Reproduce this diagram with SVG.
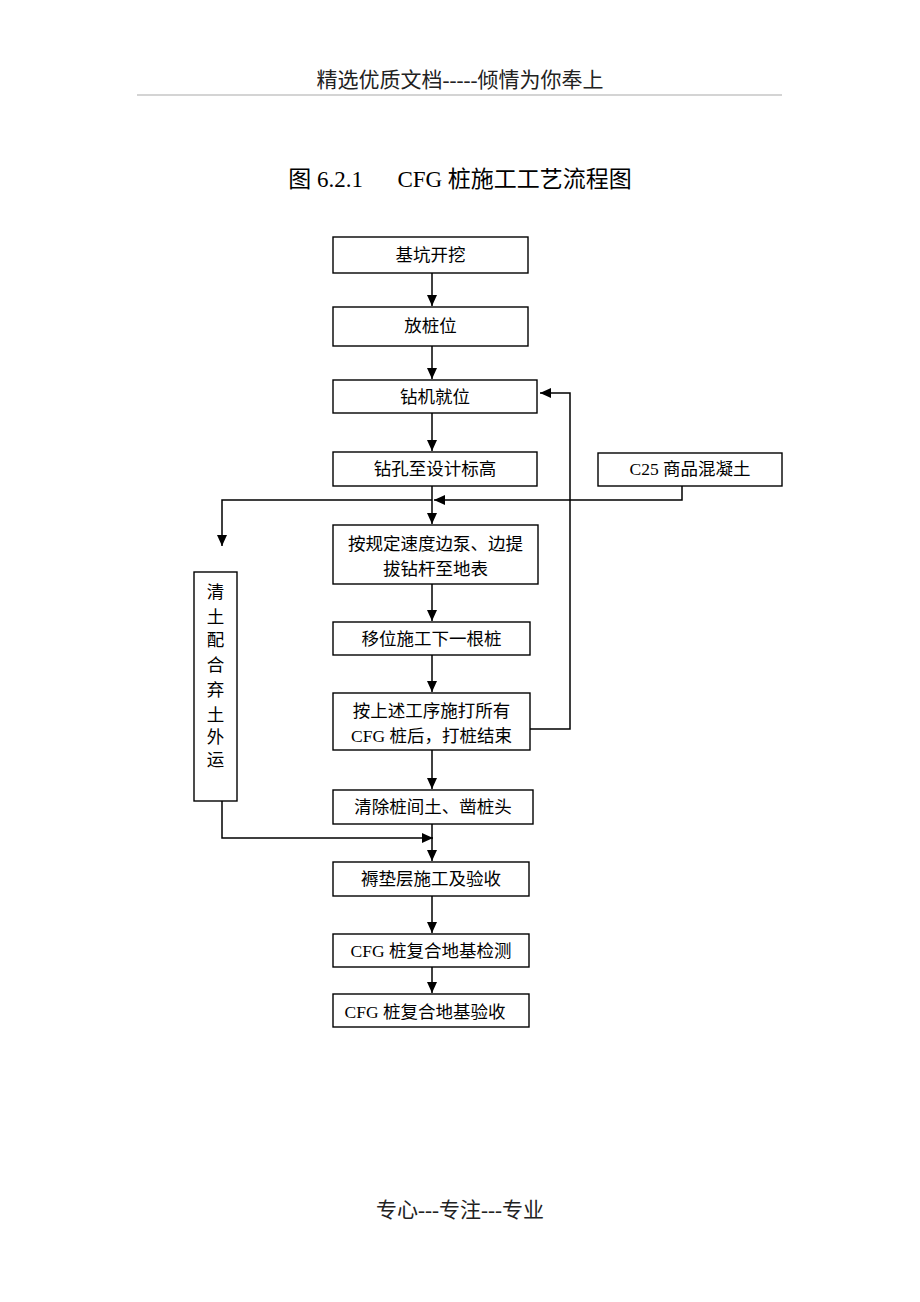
<svg xmlns="http://www.w3.org/2000/svg" width="920" height="1302" viewBox="0 0 920 1302">
<style>
.box{fill:#fff;stroke:#000;stroke-width:1.4}
.t{font-family:"Liberation Serif","Noto Sans CJK SC",serif;font-size:17.5px;fill:#000;text-anchor:middle}
.c{fill:none;stroke:#000;stroke-width:1.5}
.hdr{font-family:"Liberation Serif","Noto Sans CJK SC",serif;font-size:21px;fill:#222;text-anchor:middle}
</style>
<defs>
<marker id="ah" markerUnits="userSpaceOnUse" markerWidth="12" markerHeight="10" refX="11" refY="5" orient="auto">
<path d="M0,0 L11,5 L0,10 z" fill="#000"/>
</marker>
</defs>
<rect width="920" height="1302" fill="#fff"/>
<text class="hdr" x="460" y="87">精选优质文档-----倾情为你奉上</text>
<line x1="137" y1="95" x2="782" y2="95" stroke="#aaa" stroke-width="1.2"/>
<text class="hdr" x="460" y="187" style="font-size:23px;fill:#000" xml:space="preserve">图 6.2.1      CFG 桩施工工艺流程图</text>

<g id="connectors">
<path class="c" d="M432,273 V306" marker-end="url(#ah)"/>
<path class="c" d="M432,346 V379" marker-end="url(#ah)"/>
<path class="c" d="M432,413 V451" marker-end="url(#ah)"/>
<path class="c" d="M432,486 V524" marker-end="url(#ah)"/>
<path class="c" d="M682,486 V500 H434" marker-end="url(#ah)"/>
<path class="c" d="M432,500 H222 V546" marker-end="url(#ah)"/>
<path class="c" d="M432,584 V621" marker-end="url(#ah)"/>
<path class="c" d="M432,655 V692" marker-end="url(#ah)"/>
<path class="c" d="M530,729 H570 V393 H540" marker-end="url(#ah)"/>
<path class="c" d="M432,750 V789" marker-end="url(#ah)"/>
<path class="c" d="M432,824 V861" marker-end="url(#ah)"/>
<path class="c" d="M222,801 V838 H433" marker-end="url(#ah)"/>
<path class="c" d="M432,896 V933" marker-end="url(#ah)"/>
<path class="c" d="M432,967 V993" marker-end="url(#ah)"/>
</g>

<g id="n1"><rect class="box" x="333" y="237" width="195" height="36"/><text class="t" x="430.5" y="261">基坑开挖</text></g>
<g id="n2"><rect class="box" x="333" y="307" width="195" height="39"/><text class="t" x="430.5" y="332">放桩位</text></g>
<g id="n3"><rect class="box" x="333" y="380" width="204" height="33"/><text class="t" x="435" y="403">钻机就位</text></g>
<g id="n4"><rect class="box" x="333" y="452" width="204" height="34"/><text class="t" x="435" y="475">钻孔至设计标高</text></g>
<g id="c25"><rect class="box" x="598" y="453" width="184" height="33"/><text class="t" x="690" y="475">C25 商品混凝土</text></g>
<g id="n5"><rect class="box" x="333" y="525" width="205" height="59"/><text class="t" x="435.5" y="550">按规定速度边泵、边提</text><text class="t" x="435.5" y="575">拔钻杆至地表</text></g>
<g id="n6"><rect class="box" x="333" y="622" width="197" height="33"/><text class="t" x="431.5" y="645">移位施工下一根桩</text></g>
<g id="n7"><rect class="box" x="333" y="693" width="197" height="57"/><text class="t" x="431.5" y="717">按上述工序施打所有</text><text class="t" x="431.5" y="742">CFG 桩后，打桩结束</text></g>
<g id="n8"><rect class="box" x="333" y="790" width="200" height="34"/><text class="t" x="433" y="813">清除桩间土、凿桩头</text></g>
<g id="left"><rect class="box" x="194" y="572" width="43" height="229"/>
<text class="t" x="215.5" y="598">清</text><text class="t" x="215.5" y="623">土</text><text class="t" x="215.5" y="646">配</text><text class="t" x="215.5" y="671">合</text><text class="t" x="215.5" y="696">弃</text><text class="t" x="215.5" y="721">土</text><text class="t" x="215.5" y="743">外</text><text class="t" x="215.5" y="766">运</text></g>
<g id="n9"><rect class="box" x="333" y="862" width="196" height="34"/><text class="t" x="431" y="885">褥垫层施工及验收</text></g>
<g id="n10"><rect class="box" x="333" y="934" width="196" height="33"/><text class="t" x="431" y="957">CFG 桩复合地基检测</text></g>
<g id="n11"><rect class="box" x="333" y="994" width="196" height="33"/><text class="t" x="425" y="1018">CFG 桩复合地基验收</text></g>

<text class="hdr" x="460" y="1217">专心---专注---专业</text>
</svg>
